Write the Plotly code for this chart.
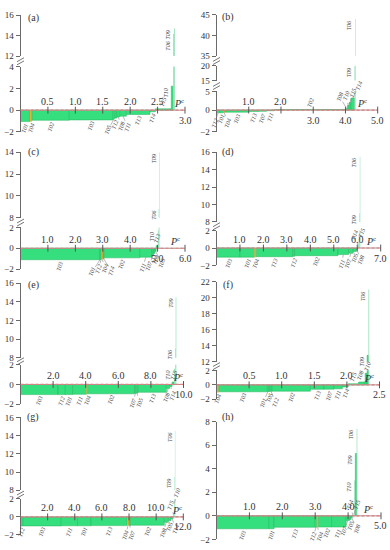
import plotly.graph_objects as go

# ---------------- data ----------------
A_LABELS = ["T01", "T04", "T02", "T03", "T05", "T12", "T08", "T11", "T13", "T14", "T15", "T10", "T06", "T09"]
A_WIDTHS = [0.175, 0.035, 0.68, 0.80, 0.03, 0.04, 0.05, 0.12, 0.43, 0.10, 0.29, 0.035, 0.015, 0.015]
A_HEIGHTS = [-1.05, -1.05, -0.93, -0.90, -0.80, -0.72, -0.62, -0.55, -0.40, -0.15, 0.12, 2.2, 14.2, 14.7]
A_XTICKS_UP = [0.5, 1.0, 1.5, 2.0, 2.5]
A_XTICKS_DOWN = [3.0]
A_YTICKS = [-2, 0, 2, 4, 12, 14, 16]

B_LABELS = ["T12", "T01", "T04", "T03", "T13", "T07", "T11", "T02", "T08", "T10", "T15", "T14", "T09", "T06"]
B_WIDTHS = [0.10, 0.12, 0.04, 0.74, 0.30, 0.25, 0.25, 2.22, 0.04, 0.05, 0.06, 0.11, 0.025, 0.015]
B_HEIGHTS = [-0.25, -0.25, -0.24, -0.20, -0.14, -0.12, -0.06, 0.15, 0.35, 1.2, 2.0, 3.2, 20.0, 44.0]
B_XTICKS_UP = [1.0, 2.0]
B_XTICKS_DOWN = [3.0, 4.0, 5.0]
B_YTICKS = [-2, 0, 5, 15, 20, 35, 40, 45]

C_LABELS = ["T03", "T01", "T12", "T04", "T14", "T02", "T11", "T07", "T08", "T05", "T13", "T10", "T06", "T09"]
C_WIDTHS = [2.88, 0.04, 0.04, 0.05, 0.04, 1.30, 0.45, 0.05, 0.05, 0.05, 0.06, 0.03, 0.015, 0.015]
C_HEIGHTS = [-1.10, -1.10, -1.06, -1.06, -1.00, -0.92, -0.86, -0.70, -0.50, -0.30, 0.25, 1.7, 8.8, 14.0]
C_XTICKS_UP = [1.0, 2.0, 3.0, 4.0]
C_XTICKS_DOWN = [5.0, 6.0]
C_YTICKS = [-2, 0, 2, 8, 10, 12, 14]

D_LABELS = ["T03", "T01", "T04", "T13", "T12", "T02", "T11", "T07", "T05", "T08", "T14", "T15", "T09", "T06"]
D_WIDTHS = [1.00, 0.62, 0.08, 1.55, 0.08, 1.85, 0.45, 0.20, 0.13, 0.05, 0.04, 0.04, 0.02, 0.02]
D_HEIGHTS = [-1.05, -1.05, -1.05, -1.00, -0.95, -0.88, -0.75, -0.60, -0.40, -0.20, 0.30, 0.60, 9.0, 15.5]
D_XTICKS_UP = [1.0, 2.0, 3.0, 4.0, 5.0, 6.0]
D_XTICKS_DOWN = [7.0]
D_YTICKS = [-2, 0, 2, 8, 10, 12, 14, 16]

E_LABELS = ["T03", "T12", "T01", "T11", "T04", "T02", "T07", "T05", "T13", "T08", "T14", "T15", "T10", "T06", "T09"]
E_WIDTHS = [2.30, 0.45, 0.45, 0.85, 0.07, 2.88, 0.10, 0.10, 1.75, 0.20, 0.15, 0.12, 0.06, 0.04, 0.04]
E_HEIGHTS = [-1.03, -1.03, -1.03, -1.00, -1.00, -0.95, -0.90, -0.88, -0.80, -0.40, -0.20, 0.25, 1.6, 9.0, 14.5]
E_XTICKS_UP = [2.0, 4.0, 6.0, 8.0]
E_XTICKS_DOWN = [10.0]
E_YTICKS = [-2, 0, 2, 8, 10, 12, 14, 16]

F_LABELS = ["T04", "T03", "T01", "T05", "T12", "T02", "T13", "T07", "T11", "T14", "T15", "T08", "T10", "T09", "T06"]
F_WIDTHS = [0.035, 0.745, 0.02, 0.02, 0.03, 0.59, 0.21, 0.15, 0.13, 0.09, 0.16, 0.10, 0.03, 0.02, 0.012]
F_HEIGHTS = [-1.05, -0.96, -0.93, -0.92, -0.90, -0.88, -0.62, -0.60, -0.55, -0.30, 0.15, 0.40, 1.6, 12.8, 21.0]
F_XTICKS_UP = [0.5, 1.0, 1.5, 2.0]
F_XTICKS_DOWN = [2.5]
F_YTICKS = [-2, 0, 2, 12, 14, 16, 18, 20, 22]

G_LABELS = ["T12", "T03", "T11", "T01", "T13", "T04", "T07", "T02", "T08", "T05", "T14", "T15", "T10", "T09", "T06"]
G_WIDTHS = [0.20, 2.80, 1.20, 1.00, 2.65, 0.15, 0.10, 2.50, 0.30, 0.20, 0.15, 0.07, 0.03, 0.03, 0.03]
G_HEIGHTS = [-1.00, -1.00, -0.98, -0.98, -0.96, -0.96, -0.95, -0.92, -0.60, -0.40, -0.20, 0.20, 1.5, 9.5, 14.5]
G_XTICKS_UP = [2.0, 4.0, 6.0, 8.0, 10.0]
G_XTICKS_DOWN = [12.0]
G_YTICKS = [-2, 0, 2, 8, 10, 12, 14, 16]

H_LABELS = ["T03", "T01", "T13", "T12", "T04", "T02", "T11", "T07", "T05", "T08", "T14", "T15", "T10", "T09", "T06"]
H_WIDTHS = [1.60, 0.15, 1.25, 0.05, 0.05, 0.40, 0.44, 0.10, 0.05, 0.04, 0.03, 0.03, 0.03, 0.04, 0.02]
H_HEIGHTS = [-1.10, -1.10, -0.97, -0.96, -0.96, -0.95, -0.95, -0.40, -0.30, -0.15, 0.05, 0.12, 3.0, 5.3, 7.4]
H_XTICKS_UP = [1.0, 2.0, 3.0, 4.0]
H_XTICKS_DOWN = [5.0]
H_YTICKS = [-2, 0, 2, 4, 6, 8]

PANEL_NAMES = ["(a)", "(b)", "(c)", "(d)", "(e)", "(f)", "(g)", "(h)"]

# ---------------- layout (pixel geometry of each panel) ----------------
W, H = 390, 550
SERIF = "Liberation Serif, Times New Roman, serif"
GREEN = "#36df7d"
GREEN_EDGE = "#22b55e"
PALE = "#93dfb6"
ORANGE = "#f7a823"
AXC = "#6a6a6a"
TXT = "#333333"

PANELS = [
    dict(data=(A_LABELS, A_WIDTHS, A_HEIGHTS, A_XTICKS_UP, A_XTICKS_DOWN, A_YTICKS),
         x0=20.5, x1=185.0, xmax=3.0, pc_dx=-6, lab=(33.3, 13.0),
         segs=[(-2, 4, 129.3, 62.7), (12, 16, 52.0, 10.5)]),
    dict(data=(B_LABELS, B_WIDTHS, B_HEIGHTS, B_XTICKS_UP, B_XTICKS_DOWN, B_YTICKS),
         x0=216.5, x1=377.7, xmax=5.0, pc_dx=-16, lab=(228.3, 12.7),
         segs=[(-2, 0, 129.0, 107.0), (0, 5, 107.0, 88.0), (15, 20, 77.0, 62.0), (35, 45, 52.0, 10.0)]),
    dict(data=(C_LABELS, C_WIDTHS, C_HEIGHTS, C_XTICKS_UP, C_XTICKS_DOWN, C_YTICKS),
         x0=20.5, x1=185.0, xmax=6.0, pc_dx=-10, lab=(33.3, 150.0),
         segs=[(-2, 2, 269.0, 226.5), (8, 14, 216.7, 150.0)]),
    dict(data=(D_LABELS, D_WIDTHS, D_HEIGHTS, D_XTICKS_UP, D_XTICKS_DOWN, D_YTICKS),
         x0=216.5, x1=380.7, xmax=7.0, pc_dx=-10, lab=(228.3, 150.0),
         segs=[(-2, 2, 265.3, 229.7), (8, 16, 221.0, 150.0)]),
    dict(data=(E_LABELS, E_WIDTHS, E_HEIGHTS, E_XTICKS_UP, E_XTICKS_DOWN, E_YTICKS),
         x0=20.5, x1=183.5, xmax=10.0, pc_dx=-6, lab=(33.3, 285.0),
         segs=[(-2, 2, 406.5, 366.5), (8, 16, 359.3, 283.3)]),
    dict(data=(F_LABELS, F_WIDTHS, F_HEIGHTS, F_XTICKS_UP, F_XTICKS_DOWN, F_YTICKS),
         x0=216.5, x1=379.5, xmax=2.5, pc_dx=-11, lab=(228.3, 285.0),
         segs=[(-2, 2, 401.6, 372.2), (12, 22, 363.3, 281.7)]),
    dict(data=(G_LABELS, G_WIDTHS, G_HEIGHTS, G_XTICKS_UP, G_XTICKS_DOWN, G_YTICKS),
         x0=20.5, x1=183.3, xmax=12.0, pc_dx=-6, lab=(33.3, 420.0),
         segs=[(-2, 2, 539.8, 503.0), (8, 16, 494.3, 420.0)]),
    dict(data=(H_LABELS, H_WIDTHS, H_HEIGHTS, H_XTICKS_UP, H_XTICKS_DOWN, H_YTICKS),
         x0=216.5, x1=381.0, xmax=5.0, pc_dx=-13, lab=(228.3, 420.0),
         segs=[(-2, 8, 544.3, 424.3)]),
]


def fx(px):
    return px / W


def fy(py):
    return 1 - py / H


def seg_of(P, v):
    """index of the y segment holding v (clamped into a segment) and clamped value"""
    segs = P["segs"]
    for i, (lo, hi, pb, pt) in enumerate(segs):
        if lo <= v <= hi:
            return i, v
    if v > segs[-1][1]:
        return len(segs) - 1, segs[-1][1]
    if v < segs[0][0]:
        return 0, segs[0][0]
    best = 0
    for i, (lo, hi, pb, pt) in enumerate(segs):
        if hi < v:
            best = i
    return best, segs[best][1]


def ypx(P, v):
    i, vv = seg_of(P, v)
    lo, hi, pb, pt = P["segs"][i]
    return pb + (vv - lo) / (hi - lo) * (pt - pb)


def relax(xs, gap, iters=300):
    p = list(xs)
    order = sorted(range(len(p)), key=lambda k: p[k])
    for _ in range(iters):
        moved = False
        for a, b in zip(order, order[1:]):
            d = p[b] - p[a]
            if d < gap - 1e-6:
                m = (gap - d) / 2
                p[a] -= m
                p[b] += m
                moved = True
        if not moved:
            break
    return p


def ytxt(v):
    return ("\u2212" + str(abs(int(v)))) if v < 0 else str(int(v))


fig = go.Figure()
layout = {}
annotations = []
shapes = []
yi = 0
LBL_FONT = dict(family=SERIF, size=6, color="#444444")

for pi, P in enumerate(PANELS, start=1):
    labels, widths, heights, xt_up, xt_down, yticks = P["data"]
    xname = "x" if pi == 1 else f"x{pi}"
    xkey = "xaxis" if pi == 1 else f"xaxis{pi}"
    ppu = (P["x1"] - P["x0"]) / P["xmax"]
    x1e = P["x1"] + 7

    lefts = []
    acc = 0.0
    for w in widths:
        lefts.append(acc)
        acc += w
    centers = [l + w / 2 for l, w in zip(lefts, widths)]
    thin = [w * ppu < 1.0 for w in widths]
    colors = [ORANGE if lab == "T04" else (PALE if t else GREEN) for lab, t in zip(labels, thin)]
    lcolors = [ORANGE if lab == "T04" else GREEN_EDGE for lab in labels]
    lwidths = [0 if (t or lab == "T04") else 0.5 for lab, t in zip(labels, thin)]

    segnames = []
    used = set()
    for si, (lo, hi, pb, pt) in enumerate(P["segs"]):
        yi += 1
        yname = "y" if yi == 1 else f"y{yi}"
        ykey = "yaxis" if yi == 1 else f"yaxis{yi}"
        tv = [v for v in yticks if lo <= v <= hi and v not in used]
        used.update(tv)
        layout[ykey] = dict(
            domain=[fy(pb), fy(pt)], range=[lo, hi], anchor=xname,
            showline=True, linecolor=AXC, linewidth=1,
            ticks="outside", ticklen=4, tickcolor=AXC, tickwidth=1,
            tickvals=tv, ticktext=[ytxt(v) for v in tv],
            tickfont=dict(family=SERIF, size=9, color=TXT),
            showgrid=False, zeroline=False, fixedrange=True,
        )
        fig.add_trace(go.Bar(
            x=lefts, y=heights, width=widths, offset=0,
            xaxis=xname, yaxis=yname,
            marker=dict(color=colors, line=dict(color=lcolors, width=lwidths)),
            hoverinfo="skip", showlegend=False,
        ))
        segnames.append(yname)

    layout[xkey] = dict(domain=[fx(P["x0"]), fx(x1e)], range=[0, (x1e - P["x0"]) / ppu],
                        visible=False, anchor=segnames[0], fixedrange=True)

    # ---- horizontal axis drawn at zero ----
    z = ypx(P, 0)
    zi, _ = seg_of(P, 0)
    zname = segnames[zi]
    shapes.append(dict(type="line", xref=xname, yref="paper", x0=0, x1=P["xmax"],
                       y0=fy(z), y1=fy(z), line=dict(color="#9a9a9a", width=1)))
    shapes.append(dict(type="line", xref=xname, yref="paper", x0=0, x1=P["xmax"],
                       y0=fy(z), y1=fy(z), line=dict(color="#f07878", width=1.2, dash="3px,2px")))
    for v in list(xt_up) + list(xt_down):
        shapes.append(dict(type="line", xref=xname, yref="paper", x0=v, x1=v,
                           y0=fy(z + 3.5), y1=fy(z - 3.5), line=dict(color="#555555", width=1)))
    for v in xt_up:
        annotations.append(dict(x=v, y=0, xref=xname, yref=zname, text=f"{v:.1f}", showarrow=False,
                                xanchor="center", yanchor="middle",
                                yshift=9, font=dict(family=SERIF, size=10, color=TXT)))
    for v in xt_down:
        t = f"{v:.1f}"
        px_c = P["x0"] + v * ppu
        half = 2.6 * len(t)
        dx = min(0.0, 388.0 - (px_c + half))
        annotations.append(dict(x=v, y=0, xref=xname, yref=zname, text=t, showarrow=False,
                                xanchor="center", yanchor="middle",
                                yshift=-10, xshift=dx, font=dict(family=SERIF, size=10, color=TXT)))
    annotations.append(dict(x=P["xmax"], y=0, xref=xname, yref=zname, text="<i>P</i><sup>c</sup>",
                            showarrow=False, xanchor="center", yanchor="middle",
                            xshift=P["pc_dx"], yshift=7,
                            font=dict(family=SERIF, size=10, color=TXT)))

    # ---- axis break marks ----
    for s_lo, s_hi in zip(P["segs"], P["segs"][1:]):
        if s_lo[3] - s_hi[2] > 1:
            mid = (s_lo[3] + s_hi[2]) / 2
            for d in (-1.6, 1.6):
                shapes.append(dict(type="line", xref="paper", yref="paper",
                                   x0=fx(P["x0"] - 3.5), y0=fy(mid + 2 + d),
                                   x1=fx(P["x0"] + 3.5), y1=fy(mid - 2 + d),
                                   line=dict(color="#666666", width=0.9)))

    # ---- panel letter ----
    annotations.append(dict(x=fx(P["lab"][0]), y=fy(P["lab"][1]), xref="paper", yref="paper",
                            text=PANEL_NAMES[pi - 1], showarrow=False,
                            xanchor="center", yanchor="middle",
                            font=dict(family=SERIF, size=10, color=TXT)))

    # ---- bar labels ----
    below = [i for i, h in enumerate(heights) if h < 0]
    above = [i for i, h in enumerate(heights) if h > 0 and (z - ypx(P, h)) <= 15]
    tall = [i for i, h in enumerate(heights) if h > 0 and (z - ypx(P, h)) > 15]

    for group, sign in ((below, 1), (above, -1)):
        if not group:
            continue
        cx = [P["x0"] + centers[i] * ppu for i in group]
        rx = relax(cx, 6.5)
        for i, c0, c1 in zip(group, cx, rx):
            sh = c1 - c0
            fan = abs(sh) > 1.5
            si, yv = seg_of(P, heights[i])
            annotations.append(dict(
                x=centers[i], y=yv, xref=xname, yref=segnames[si],
                text=f"<i>{labels[i]}</i>", textangle=-70, font=LBL_FONT,
                showarrow=True, arrowhead=0, arrowwidth=0.6, standoff=0,
                arrowcolor="#8a8a8a" if fan else "rgba(0,0,0,0)",
                ax=sh, ay=sign * (6.5 + (2 + 0.5 * min(abs(sh), 12) if fan else 0)),
            ))

    placed = []
    for i in sorted(tall, key=lambda k: ypx(P, heights[k])):
        top = ypx(P, heights[i])
        xp = P["x0"] + lefts[i] * ppu
        start = top
        for (qx, qbot) in placed:
            if abs(qx - xp) < 8 and start < qbot + 1:
                start = qbot + 1
        placed.append((xp, start + 10))
        si, yv = seg_of(P, heights[i])
        annotations.append(dict(
            x=lefts[i], y=yv, xref=xname, yref=segnames[si],
            text=f"<i>{labels[i]}</i>", textangle=-90, font=LBL_FONT,
            showarrow=False, xanchor="right", yanchor="top",
            xshift=-0.5, yshift=-(start - top),
        ))

fig.update_layout(
    width=W, height=H, margin=dict(l=0, r=0, t=0, b=0),
    paper_bgcolor="white", plot_bgcolor="white",
    barmode="overlay", showlegend=False,
    annotations=annotations, shapes=shapes,
    **layout,
)
fig.write_html(
    "out.html",
    config={"displayModeBar": False, "staticPlot": True},
    post_script="document.body.style.margin='0';document.body.style.overflow='hidden';",
)
